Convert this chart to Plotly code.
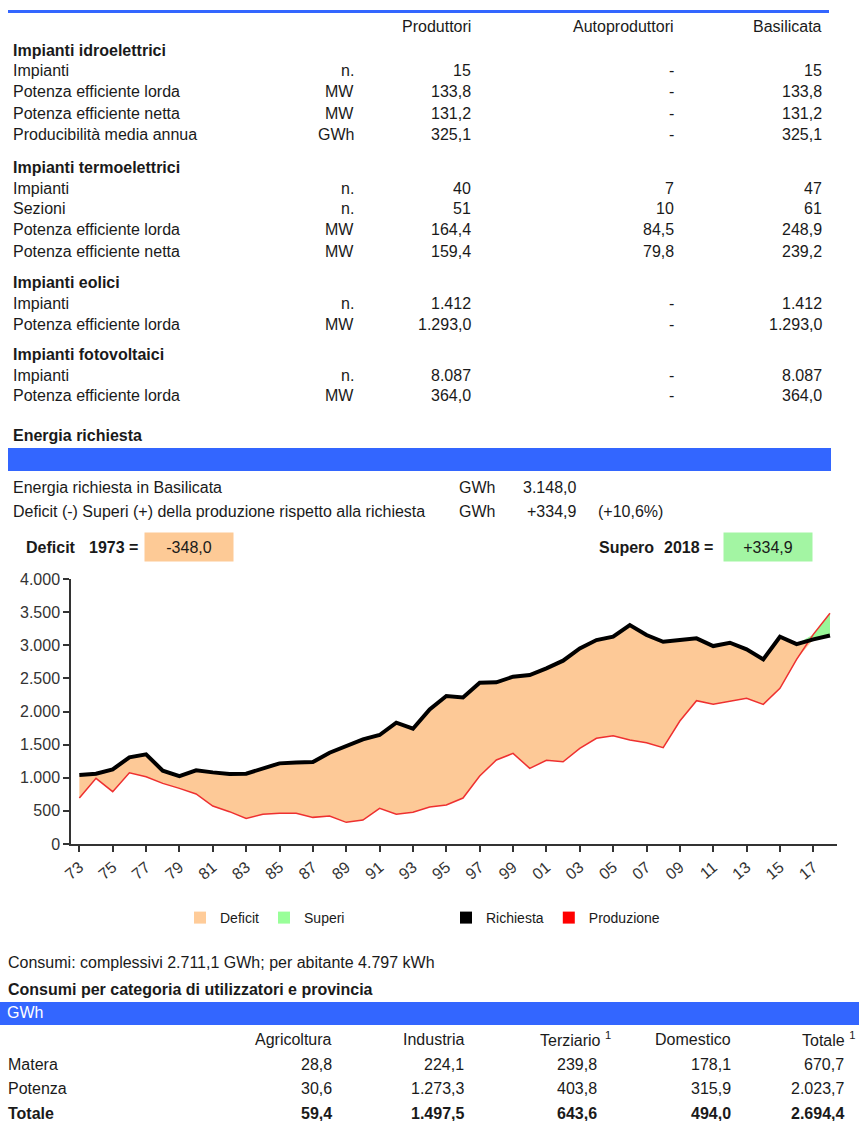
import plotly.graph_objects as go

# ─── Dati ──────────────────────────────────────────────────────────────────────
COLONNE = ["Produttori", "Autoproduttori", "Basilicata"]
SEZIONI = ["Impianti idroelettrici", "Impianti termoelettrici", "Impianti eolici", "Impianti fotovoltaici"]

IDRO_VOCI = ["Impianti", "Potenza efficiente lorda", "Potenza efficiente netta", "Producibilità media annua"]
IDRO_UNITA = ["n.", "MW", "MW", "GWh"]
IDRO_PROD = ["15", "133,8", "131,2", "325,1"]
IDRO_AUTO = ["-", "-", "-", "-"]
IDRO_TOT = ["15", "133,8", "131,2", "325,1"]

TERMO_VOCI = ["Impianti", "Sezioni", "Potenza efficiente lorda", "Potenza efficiente netta"]
TERMO_UNITA = ["n.", "n.", "MW", "MW"]
TERMO_PROD = ["40", "51", "164,4", "159,4"]
TERMO_AUTO = ["7", "10", "84,5", "79,8"]
TERMO_TOT = ["47", "61", "248,9", "239,2"]

EOLICO_VOCI = ["Impianti", "Potenza efficiente lorda"]
EOLICO_UNITA = ["n.", "MW"]
EOLICO_PROD = ["1.412", "1.293,0"]
EOLICO_AUTO = ["-", "-"]
EOLICO_TOT = ["1.412", "1.293,0"]

FOTO_VOCI = ["Impianti", "Potenza efficiente lorda"]
FOTO_UNITA = ["n.", "MW"]
FOTO_PROD = ["8.087", "364,0"]
FOTO_AUTO = ["-", "-"]
FOTO_TOT = ["8.087", "364,0"]

YEARS = list(range(1973, 2019))
RICHIESTA = [1041, 1060, 1127, 1308, 1353, 1107, 1026, 1112, 1081, 1056,
             1061, 1132, 1217, 1232, 1237, 1378, 1479, 1580, 1645, 1831,
             1740, 2032, 2233, 2213, 2435, 2440, 2525, 2550, 2651, 2767,
             2953, 3078, 3129, 3305, 3154, 3053, 3078, 3104, 2988, 3038,
             2938, 2787, 3129, 3018, 3088, 3148.0]
PRODUZIONE = [693, 991, 790, 1076, 1016, 915, 840, 755, 573, 488,
              387, 448, 463, 463, 402, 422, 327, 362, 538, 448,
              478, 558, 589, 694, 1026, 1268, 1368, 1142, 1263, 1242,
              1444, 1595, 1635, 1569, 1529, 1454, 1856, 2163, 2108, 2158,
              2198, 2108, 2349, 2787, 3164, 3482.9]
X_TICK_VALS = list(range(1973, 2018, 2))
X_TICK_LABELS = ["73", "75", "77", "79", "81", "83", "85", "87", "89", "91", "93", "95",
                 "97", "99", "01", "03", "05", "07", "09", "11", "13", "15", "17"]

CATEGORIE = ["Agricoltura", "Industria", "Terziario <sup>1</sup>", "Domestico", "Totale <sup>1</sup>"]
PROVINCE = ["Matera", "Potenza", "Totale"]
MATERA = ["28,8", "224,1", "239,8", "178,1", "670,7"]
POTENZA = ["30,6", "1.273,3", "403,8", "315,9", "2.023,7"]
TOTALE = ["59,4", "1.497,5", "643,6", "494,0", "2.694,4"]

# ─── Stile ─────────────────────────────────────────────────────────────────────
W, H = 859, 1121
BLUE = "#3366ff"
ORANGE = "#fdc997"
GREEN = "#99f799"
RED = "#ee3030"
TEXT = "#1a1a1a"
AXIS = "#333333"
FONT = "Liberation Sans, Arial, sans-serif"


def px(x):
    return x / W


def py(y):
    return 1 - y / H


annotations = []


def txt(x, y, s, anchor="left", bold=False, size=16, color=TEXT, **kw):
    if bold:
        s = f"<b>{s}</b>"
    annotations.append(dict(x=px(x), y=py(y), xref="paper", yref="paper", text=s,
                            showarrow=False, xanchor=anchor, yanchor="middle",
                            font=dict(size=size, color=color, family=FONT), **kw))


# ─── Tabella impianti ─────────────────────────────────────────────────────────
COL_X = [473, 676, 824]
for name, cx in zip(COLONNE, COL_X):
    txt(cx, 26, name, anchor="right")

blocchi = [
    (IDRO_VOCI, IDRO_UNITA, IDRO_PROD, IDRO_AUTO, IDRO_TOT),
    (TERMO_VOCI, TERMO_UNITA, TERMO_PROD, TERMO_AUTO, TERMO_TOT),
    (EOLICO_VOCI, EOLICO_UNITA, EOLICO_PROD, EOLICO_AUTO, EOLICO_TOT),
    (FOTO_VOCI, FOTO_UNITA, FOTO_PROD, FOTO_AUTO, FOTO_TOT),
]
SEZ_Y = [50, 167, 282, 354]
for titolo, y0, (voci, unita, prod, auto, tot) in zip(SEZIONI, SEZ_Y, blocchi):
    txt(11, y0, titolo, bold=True)
    for i in range(len(voci)):
        y = y0 + 21 * (i + 1)
        txt(11, y, voci[i])
        txt(356, y, unita[i], anchor="right")
        txt(COL_X[0], y, prod[i], anchor="right")
        txt(COL_X[1], y, auto[i], anchor="right")
        txt(COL_X[2], y, tot[i], anchor="right")

# ─── Energia richiesta ────────────────────────────────────────────────────────
txt(11, 436, "Energia richiesta", bold=True)
txt(11, 487, "Energia richiesta in Basilicata")
txt(457, 487, "GWh")
txt(578, 487, "3.148,0", anchor="right")
txt(11, 512, "Deficit (-) Superi (+) della produzione rispetto alla richiesta")
txt(457, 512, "GWh")
txt(578, 512, "+334,9", anchor="right")
txt(596, 512, "(+10,6%)")

txt(24, 547, "Deficit", bold=True)
txt(140, 547, "1973 =", anchor="right", bold=True)
txt(189, 547, "-348,0", anchor="center", bgcolor="#fdca96", width=88, height=28, borderpad=0)
txt(597, 547, "Supero", bold=True)
txt(715, 547, "2018 =", anchor="right", bold=True)
txt(768, 547, "+334,9", anchor="center", bgcolor="#a3f5a3", width=88, height=28, borderpad=0)

# ─── Consumi ──────────────────────────────────────────────────────────────────
txt(6, 962, "Consumi: complessivi 2.711,1 GWh; per abitante 4.797 kWh")
txt(6, 990, "Consumi per categoria di utilizzatori e provincia", bold=True)
txt(5, 1013, "GWh", color="white")
CAT_X = [334, 466, 599, 733, 846]
HEAD_X = [334, 466, 613, 733, 857]
for name, cx in zip(CATEGORIE, HEAD_X):
    txt(cx, 1039, name, anchor="right")
for j, (prov, row) in enumerate(zip(PROVINCE, [MATERA, POTENZA, TOTALE])):
    y = 1064 + 24.5 * j
    bold = prov == "Totale"
    txt(6, y, prov, bold=bold)
    for v, cx in zip(row, CAT_X):
        txt(cx, y, v, anchor="right", bold=bold)

# ─── Grafico ──────────────────────────────────────────────────────────────────
lower = [min(r, p) for r, p in zip(RICHIESTA, PRODUZIONE)]
upper = [max(r, p) for r, p in zip(RICHIESTA, PRODUZIONE)]

fig = go.Figure()
fig.add_trace(go.Scatter(x=YEARS, y=lower, mode="lines", line=dict(width=0),
                         showlegend=False, hoverinfo="skip"))
fig.add_trace(go.Scatter(x=YEARS, y=RICHIESTA, mode="none", fill="tonexty",
                         fillcolor=ORANGE, showlegend=False, hoverinfo="skip"))
fig.add_trace(go.Scatter(x=YEARS, y=RICHIESTA, mode="lines", line=dict(width=0),
                         showlegend=False, hoverinfo="skip"))
fig.add_trace(go.Scatter(x=YEARS, y=upper, mode="none", fill="tonexty",
                         fillcolor=GREEN, showlegend=False, hoverinfo="skip"))
fig.add_trace(go.Scatter(x=YEARS, y=PRODUZIONE, mode="lines", name="Produzione",
                         line=dict(color=RED, width=1.5), showlegend=False))
fig.add_trace(go.Scatter(x=YEARS, y=RICHIESTA, mode="lines", name="Richiesta",
                         line=dict(color="black", width=4), showlegend=False))

# legend entries (square swatches)
for name, col, leg in [("Deficit", "#ffcc99", "legend"), ("Superi", "#99ff99", "legend"),
                       ("Richiesta", "black", "legend2"), ("Produzione", "#ff0000", "legend2")]:
    fig.add_trace(go.Scatter(x=[YEARS[0]], y=[None], mode="markers", name=name, legend=leg,
                             marker=dict(symbol="square", size=12, color=col)))

shapes = [
    dict(type="line", xref="paper", yref="paper", x0=px(8), x1=px(829), y0=py(11.5), y1=py(11.5),
         line=dict(color=BLUE, width=3)),
    dict(type="rect", xref="paper", yref="paper", x0=px(8), x1=px(831), y0=py(471), y1=py(448),
         fillcolor=BLUE, line=dict(width=0), layer="below"),
    dict(type="rect", xref="paper", yref="paper", x0=0, x1=1, y0=py(1025), y1=py(1002),
         fillcolor=BLUE, line=dict(width=0), layer="below"),
]

legend_style = dict(orientation="h", yanchor="middle", xanchor="left", bgcolor="rgba(0,0,0,0)",
                    traceorder="normal", font=dict(size=14, color=TEXT, family=FONT), itemclick=False)

fig.update_layout(
    width=W, height=H, autosize=False,
    margin=dict(l=0, r=0, t=0, b=0, pad=0, autoexpand=False),
    paper_bgcolor="white", plot_bgcolor="white",
    font=dict(family=FONT, color=TEXT),
    separators=",.",
    annotations=annotations,
    shapes=shapes,
    legend=dict(x=px(180), y=py(918), **legend_style),
    legend2=dict(x=px(446), y=py(918), **legend_style),
    xaxis=dict(domain=[px(71), px(837)], range=[1972.5, 2018.42],
               tickvals=X_TICK_VALS, ticktext=X_TICK_LABELS, tickangle=-40,
               showgrid=False, zeroline=False, showline=True, linecolor=AXIS, linewidth=1.5,
               ticks="outside", ticklen=6, tickcolor=AXIS, tickwidth=1.5,
               tickfont=dict(size=16, color=AXIS, family=FONT)),
    yaxis=dict(domain=[py(844), py(579)], range=[0, 4000], dtick=500, tickformat=",d",
               showgrid=False, zeroline=False, showline=True, linecolor=AXIS, linewidth=1.5,
               ticks="outside", ticklen=6, tickcolor=AXIS, tickwidth=1.5,
               tickfont=dict(size=16, color=AXIS, family=FONT)),
)

fig.write_html("out.html", config={"displayModeBar": False},
               post_script="document.body.style.margin='0';document.body.style.overflow='hidden';")
